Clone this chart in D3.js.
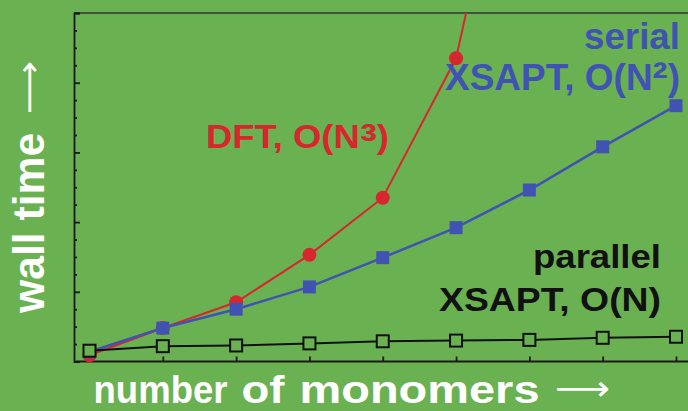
<!DOCTYPE html>
<html><head><meta charset="utf-8">
<script src="https://cdn.jsdelivr.net/npm/d3@7"></script>
<style>html,body{margin:0;padding:0;background:#6ab152;}svg{display:block}</style>
</head><body>
<script>
const monomers = [1,2,3,4,5,6,7,8,9];
const dftTime = [0.09, 0.48, 0.85, 1.53, 2.35, 4.35, 9.1];
const serialTime = [0.14, 0.48, 0.75, 1.07, 1.49, 1.92, 2.46, 3.08, 3.67];
const parallelTime = [0.155, 0.22, 0.23, 0.26, 0.29, 0.30, 0.31, 0.34, 0.355];
const xTicks = [2,3,4,5,6,7,8,9];
const yMajor = [0,1,2,3,4,5];
const yMinor = d3.range(0, 5.001, 0.25).filter(v => Math.abs(v - Math.round(v)) > 1e-6);

(function () {
const W = 688, H = 411, BG = "#6ab152";
const RED = "#d8262e", BLUE = "#4153b2", BLACK = "#111";
const svg = d3.select("body").append("svg").attr("width", W).attr("height", H);
svg.append("rect").attr("width", W).attr("height", H).attr("fill", BG);

const pL = 74, pR = 692, pT = 13, pB = 361.5;
const x = d3.scaleLinear().domain([1, 9]).range([89.5, 676]);
const y = d3.scaleLinear().domain([0, 5]).range([pB, pT]);

svg.append("defs").append("clipPath").attr("id", "clip")
  .append("rect").attr("x", pL).attr("y", pT).attr("width", pR - pL).attr("height", pB - pT + 10);

// frame
svg.append("line").attr("x1", pL).attr("x2", W).attr("y1", pT).attr("y2", pT)
  .attr("stroke", "#333").attr("stroke-width", 1.6);

const yAx = svg.append("g").attr("transform", `translate(${pL},0)`)
  .call(d3.axisLeft(y).tickValues(yMajor).tickSize(-6).tickFormat(""));
const yAxMin = svg.append("g").attr("transform", `translate(${pL},0)`)
  .call(d3.axisLeft(y).tickValues(yMinor).tickSize(-3).tickFormat(""));
yAxMin.select(".domain").remove();
const xAx = svg.append("g").attr("transform", `translate(0,${pB})`)
  .call(d3.axisBottom(x).tickValues(xTicks).tickSize(-5).tickFormat(""));
xAx.select(".domain").attr("d", `M${pL},0H${W}`);
[yAx, yAxMin, xAx].forEach(g => {
  g.selectAll("path,line").attr("stroke", "#1a1a1a").attr("stroke-width", 1.8);
});

const plot = svg.append("g").attr("clip-path", "url(#clip)");
const line = d3.line().x((d, i) => x(monomers[i])).y(d => y(d));

// DFT
plot.append("path").datum(dftTime).attr("d", line).attr("fill", "none")
  .attr("stroke", RED).attr("stroke-width", 2);
plot.selectAll(".dft").data(dftTime).join("circle")
  .attr("cx", (d, i) => x(monomers[i])).attr("cy", d => y(d)).attr("r", 7).attr("fill", RED);

// serial
plot.append("path").datum(serialTime).attr("d", line).attr("fill", "none")
  .attr("stroke", BLUE).attr("stroke-width", 2.5);
plot.selectAll(".ser").data(serialTime).join("rect")
  .attr("x", (d, i) => x(monomers[i]) - 6.5).attr("y", d => y(d) - 6.5)
  .attr("width", 13).attr("height", 13).attr("fill", BLUE);

// parallel
plot.append("path").datum(parallelTime).attr("d", line).attr("fill", "none")
  .attr("stroke", BLACK).attr("stroke-width", 2);
plot.selectAll(".par").data(parallelTime).join("rect")
  .attr("x", (d, i) => x(monomers[i]) - 6).attr("y", d => y(d) - 6)
  .attr("width", 12).attr("height", 12).attr("fill", BG)
  .attr("stroke", BLACK).attr("stroke-width", 2);

const FONT = "'Liberation Sans', Arial, Helvetica, sans-serif";
function label(xx, yy, size, anchor, color, len) {
  return svg.append("text").attr("x", xx).attr("y", yy).attr("font-family", FONT)
    .attr("font-weight", "bold").attr("font-size", size).attr("text-anchor", anchor)
    .attr("fill", color).attr("textLength", len).attr("lengthAdjust", "spacingAndGlyphs");
}
const dftL = label(206, 147.5, 32.5, "start", RED, 183);
dftL.append("tspan").text("DFT, O(N");
dftL.append("tspan").attr("font-size", 46).attr("dy", 9).text("³");
dftL.append("tspan").attr("dy", -9).text(")");
label(680, 48.5, 36, "end", BLUE, 96).text("serial");
const serL = label(680, 90, 36, "end", BLUE, 235);
serL.append("tspan").text("XSAPT, O(N");
serL.append("tspan").attr("font-size", 44).attr("dy", 3).text("²");
serL.append("tspan").attr("dy", -3).text(")");
label(661, 267.5, 33, "end", BLACK, 128).text("parallel");
label(661, 311, 33, "end", BLACK, 222).text("XSAPT, O(N)");

// x title
const xt = svg.append("text").attr("y", 403).attr("font-family", FONT)
  .attr("fill", "#fff").attr("font-size", 38).attr("font-weight", "bold");
xt.append("tspan").attr("x", 93.5).attr("textLength", 134).attr("lengthAdjust", "spacingAndGlyphs").text("number");
xt.append("tspan").text(" ");
xt.append("tspan").attr("x", 241.5).attr("textLength", 43).attr("lengthAdjust", "spacingAndGlyphs").text("of");
xt.append("tspan").text(" ");
xt.append("tspan").attr("x", 299.5).attr("textLength", 240).attr("lengthAdjust", "spacingAndGlyphs").text("monomers");
xt.append("tspan").text(" ");
xt.append("tspan").attr("x", 555).attr("dy", -3).attr("font-weight", "normal")
  .attr("font-family", "'DejaVu Sans', sans-serif")
  .attr("font-size", 34).attr("textLength", 55).attr("lengthAdjust", "spacingAndGlyphs").text("⟶");

// y title
const yt = svg.append("text").attr("transform", "translate(43.5,313) rotate(-90)")
  .attr("font-family", FONT).attr("fill", "#fff").attr("font-size", 44);
yt.append("tspan").attr("font-weight", "bold").attr("textLength", 192)
  .attr("lengthAdjust", "spacingAndGlyphs").text("wall time ");
yt.append("tspan").attr("x", 199).attr("dy", -4).attr("font-family", "'DejaVu Sans', sans-serif")
  .attr("font-size", 32).attr("textLength", 53).attr("lengthAdjust", "spacingAndGlyphs").text("⟶");
})();
</script>
</body></html>
